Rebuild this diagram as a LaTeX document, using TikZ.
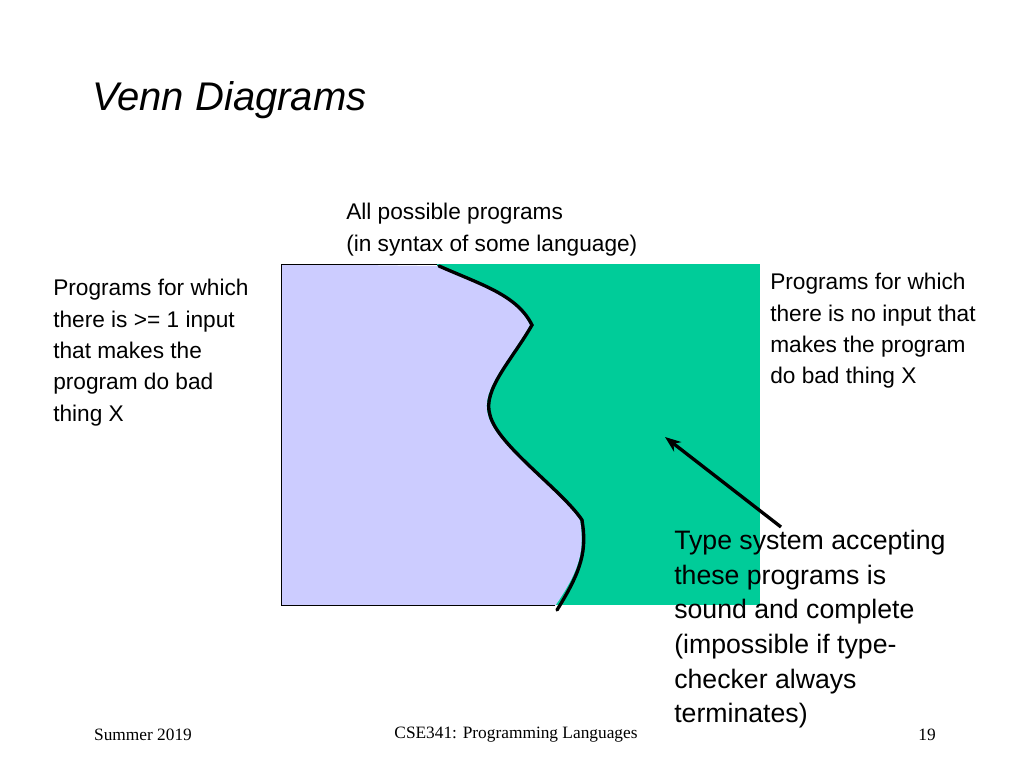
\documentclass[tikz,border=0pt]{standalone}
\usepackage{fontspec}
\setmainfont{Liberation Sans}
\newfontfamily\serifft{Liberation Serif}
\usetikzlibrary{arrows.meta}
\begin{document}
\begin{tikzpicture}[x=0.75pt,y=-0.75pt,
  lbl/.style={font=\fontsize{17}{23.5}\selectfont,align=left,inner sep=0pt},
  big/.style={font=\fontsize{20}{26}\selectfont,align=left,inner sep=0pt},
  foot/.style={font=\serifft\fontsize{13}{15}\selectfont,inner sep=0pt}]
\useasboundingbox (0,0) rectangle (1024,768);
\definecolor{lav}{HTML}{CCCCFF}
\definecolor{grn}{HTML}{00CC99}
\coordinate (tl) at (281,264);
\coordinate (br) at (760,605);
\fill[grn] (437,264) rectangle (760,605);
\fill[lav] (281,264) -- (437,266) .. controls (480,285) and (515,295) .. (530,325)
  .. controls (510,360) and (480,390) .. (488,415)
  .. controls (495,445) and (560,490) .. (580,520)
  .. controls (585,550) and (580,570) .. (555,606) -- (281,605) -- cycle;
\draw[thin] (437,264) -- (281,264) -- (281,605) -- (555,605);
\draw[line width=2.5pt,line cap=round,xshift=1.5pt] (437,266) .. controls (480,285) and (515,295) .. (530,325)
  .. controls (510,360) and (480,390) .. (488,415)
  .. controls (495,445) and (560,490) .. (580,520)
  .. controls (585,550) and (580,570) .. (555,610);
\node[font=\itshape\fontsize{30}{36}\selectfont,anchor=west,inner sep=0pt] (title) at (92,100) {Venn Diagrams};
\node[lbl,anchor=north west] (all) at (346,203) {All possible programs\\(in syntax of some language)};
\node[lbl,anchor=north west] (left) at (53,279) {Programs for which\\there is >= 1 input\\that makes the\\program do bad\\thing X};
\node[lbl,anchor=north west] (right) at (770,273) {Programs for which\\there is no input that\\makes the program\\do bad thing X};
\node[big,anchor=north west] (ts) at (674,530) {Type system accepting\\these programs is\\sound and complete\\(impossible if type-\\checker always\\terminates)};
\coordinate (tip) at (665,437);
\coordinate (tail) at (781,527);
\draw[line width=2.5pt,-{Stealth[length=12pt]}] (tail) -- (tip);
\node[foot] (f1) at (143,735) {Summer 2019};
\node[foot] (f2) at (516,735) {CSE341: Programming Languages};
\node[foot] (f3) at (927,735) {19};
\end{tikzpicture}
\end{document}
